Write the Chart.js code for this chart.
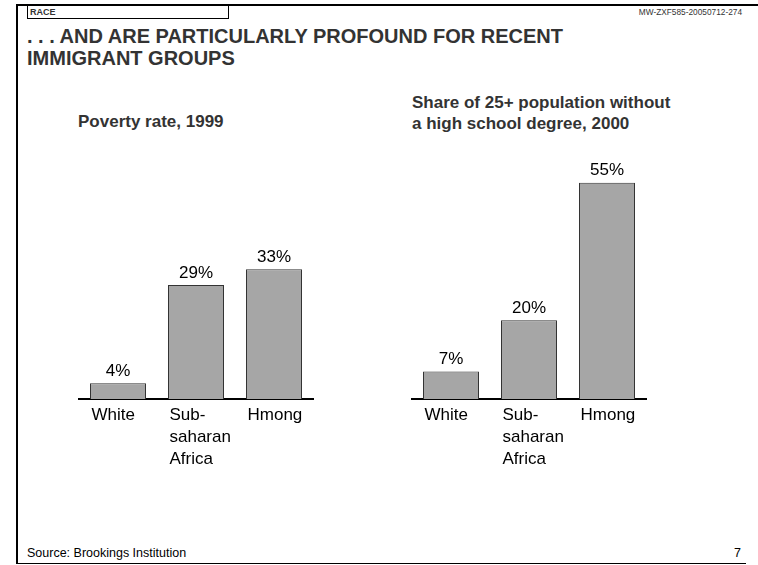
<!DOCTYPE html>
<html>
<head>
<meta charset="utf-8">
<script src="https://cdn.jsdelivr.net/npm/chart.js@4/dist/chart.umd.min.js"></script>
<style>
  html, body { margin: 0; padding: 0; background: #fff; }
  #page { position: relative; width: 758px; height: 565px; overflow: hidden; background: #fff;
          font-family: "Liberation Sans", Arial, sans-serif; }
  .abs { position: absolute; white-space: nowrap; }
  #topline { left: 16px; top: 4px; width: 742px; height: 2px; background: #000; }
  #leftline { left: 16px; top: 4px; width: 2px; height: 560px; background: #000; }
  #bottomline { left: 16px; top: 563px; width: 730px; height: 1px; background: #000; }
  #racebox { left: 27px; top: 6px; width: 200px; height: 12px; border: 1px solid #000; border-top: none; box-sizing: content-box; }
  #race { left: 30px; top: 7px; font-size: 9px; font-weight: bold; color: #333; line-height: 11px; }
  #code { right: 16px; top: 7px; font-size: 8.3px; color: #333; line-height: 11px; }
  #title { left: 27px; top: 25px; font-size: 20px; font-weight: bold; color: #333; line-height: 22px; }
  #sub1 { left: 78px; top: 111px; font-size: 17px; font-weight: bold; color: #333; line-height: 21px; }
  #sub2 { left: 412px; top: 92px; font-size: 17px; font-weight: bold; color: #333; line-height: 21px; }
  #source { left: 27px; top: 546px; font-size: 12.5px; color: #000; line-height: 14px; }
  #pagenum { left: 734px; top: 546px; font-size: 12.5px; color: #000; line-height: 14px; }
  canvas { position: absolute; }
</style>
</head>
<body>
<div id="page">
  <div class="abs" id="topline"></div>
  <div class="abs" id="leftline"></div>
  <div class="abs" id="bottomline"></div>
  <div class="abs" id="racebox"></div>
  <div class="abs" id="race">RACE</div>
  <div class="abs" id="code">MW-ZXF585-20050712-274</div>
  <div class="abs" id="title">. . . AND ARE PARTICULARLY PROFOUND FOR RECENT<br>IMMIGRANT GROUPS</div>
  <div class="abs" id="sub1">Poverty rate, 1999</div>
  <div class="abs" id="sub2">Share of 25+ population without<br>a high school degree, 2000</div>
  <div class="abs" id="source">Source: Brookings Institution</div>
  <div class="abs" id="pagenum">7</div>
  <canvas id="c1" width="254" height="330" style="left:69px; top:149px; width:254px; height:330px;"></canvas>
  <canvas id="c2" width="254" height="330" style="left:402px; top:149px; width:254px; height:330px;"></canvas>
</div>
<script>
const categories = [["White"], ["Sub-", "saharan", "Africa"], ["Hmong"]];
const povertyRate1999 = [4, 29, 33];
const noHighSchool2000 = [7, 20, 55];
const valueSuffix = "%";

const FONT = '"Liberation Sans", Arial, sans-serif';

const valueLabelPlugin = {
  id: 'valueLabels',
  afterDatasetsDraw(chart) {
    const ctx = chart.ctx;
    const meta = chart.getDatasetMeta(0);
    const data = chart.data.datasets[0].data;
    ctx.save();
    ctx.font = '17px ' + FONT;
    ctx.fillStyle = '#000';
    ctx.textAlign = 'center';
    ctx.textBaseline = 'middle';
    meta.data.forEach((bar, i) => {
      ctx.fillText(data[i] + valueSuffix, bar.x, bar.y - 12);
    });
    ctx.restore();
  }
};

function makeChart(id, values) {
  const barPct = 56 / 78;
  return new Chart(document.getElementById(id), {
    type: 'bar',
    data: {
      labels: categories,
      datasets: [{
        data: values,
        backgroundColor: '#a6a6a6',
        borderColor: '#333333',
        borderWidth: 1,
        borderSkipped: 'bottom',
        categoryPercentage: 1,
        barPercentage: barPct
      }]
    },
    options: {
      responsive: false,
      animation: false,
      devicePixelRatio: 1,
      layout: { padding: { left: 10, right: 10, top: 14, bottom: 0 } },
      plugins: { legend: { display: false }, tooltip: { enabled: false }, title: { display: false } },
      scales: {
        x: {
          display: true,
          grid: { display: false, drawTicks: false },
          border: { display: true, color: '#000', width: 2 },
          ticks: {
            align: 'start',
            labelOffset: -26.5,
            padding: 6,
            maxRotation: 0,
            minRotation: 0,
            autoSkip: false,
            color: '#000',
            font: { family: FONT, size: 17, lineHeight: 1.27 }
          },
          afterFit(scale) {
            scale.height = 80;
            scale.paddingLeft = 0;
            scale.paddingRight = 0;
          }
        },
        y: {
          display: false,
          min: 0,
          max: 60
        }
      }
    },
    plugins: [valueLabelPlugin]
  });
}

makeChart('c1', povertyRate1999);
makeChart('c2', noHighSchool2000);
</script>
</body>
</html>
